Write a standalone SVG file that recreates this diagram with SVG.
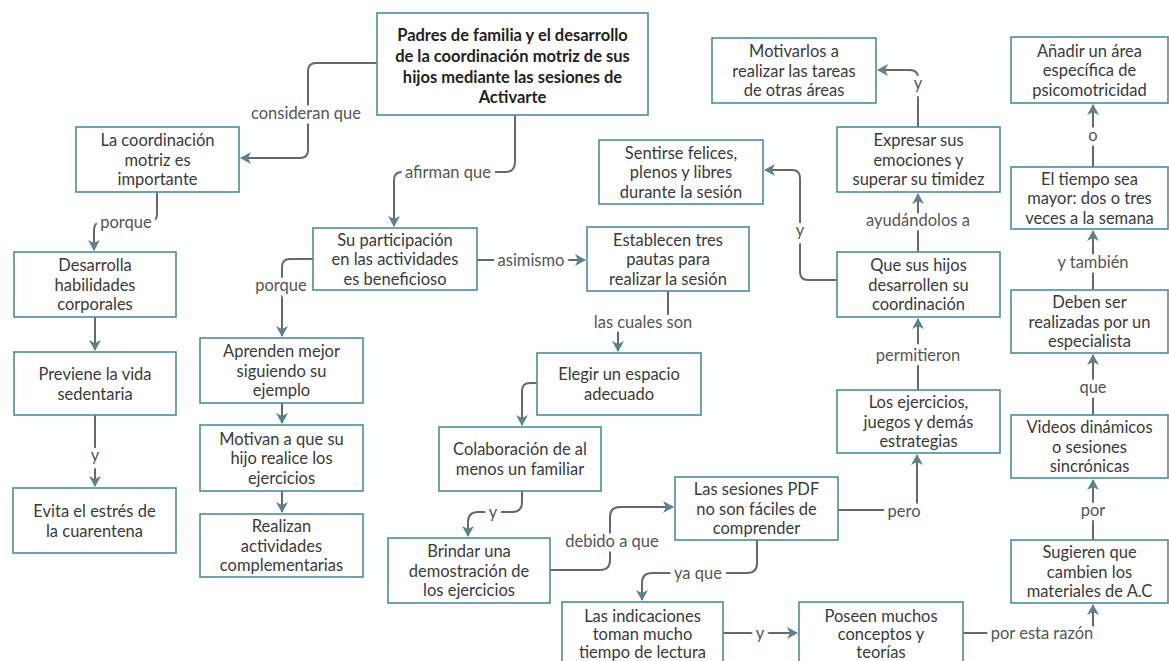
<svg xmlns="http://www.w3.org/2000/svg" width="1169" height="661" viewBox="0 0 1169 661">
<style>
.bx{fill:#fff;stroke:#4f8a9b;stroke-width:1.6}
.t{font-family:Lato,"Open Sans","Liberation Sans",sans-serif;font-size:16.5px;fill:#3a3a3a;text-anchor:middle;dominant-baseline:central}
.b{font-weight:bold;fill:#222}
.c{fill:none;stroke:#686868;stroke-width:2;marker-end:url(#ah)}
.l{font-family:Lato,"Open Sans","Liberation Sans",sans-serif;font-size:16.5px;fill:#555;text-anchor:middle;dominant-baseline:central;paint-order:stroke;stroke:#fff;stroke-width:9;stroke-linejoin:round}
</style>
<defs>
<marker id="ah" viewBox="0 0 12 12" refX="10" refY="6" markerWidth="12" markerHeight="12" markerUnits="userSpaceOnUse" orient="auto">
<path d="M0,0 L11,6 L0,12 L3,6 z" fill="#61818a"/>
</marker>
</defs>
<rect width="1169" height="661" fill="#fdfefe"/>
<g id="connectors">
<path class="c" d="M377,63 H316 Q308,63 308,71 V150 Q308,158 300,158 H241"/>
<path class="c" d="M515,115 V162 Q515,172 505,172 H402 Q394,172 394,180 V226"/>
<path class="c" d="M157,192 V214 Q157,222 149,222 H102 Q94,222 94,230 V250"/>
<path class="c" d="M95,317 V350"/>
<path class="c" d="M95,415 V486"/>
<path class="c" d="M313,259 H290 Q282,259 282,267 V336"/>
<path class="c" d="M282,403 V423"/>
<path class="c" d="M282,491 V512"/>
<path class="c" d="M477,260 H585"/>
<path class="c" d="M668,291 V322 H618 V351"/>
<path class="c" d="M537,383 H530 Q522,383 522,391 V425"/>
<path class="c" d="M522,491 V502 Q522,512 512,512 H478 Q468,512 468,522 V536"/>
<path class="c" d="M550,570 H600 Q610,570 610,560 V517 Q610,507 620,507 H673"/>
<path class="c" d="M757,540 V563 Q757,573 747,573 H652 Q642,573 642,583 V600"/>
<path class="c" d="M838,510 H917 V455"/>
<path class="c" d="M918,390 V319"/>
<path class="c" d="M918,252 V194"/>
<path class="c" d="M918,127 V78 Q918,70 910,70 H878"/>
<path class="c" d="M837,280 H808 Q800,280 800,272 V178 Q800,170 792,170 H765"/>
<path class="c" d="M1093,540 V480"/>
<path class="c" d="M1093,415 V355"/>
<path class="c" d="M1093,290 V231"/>
<path class="c" d="M1093,167 V105"/>
<path class="c" d="M963,633 H1093 V605"/>
<path class="c" d="M723,633 H797"/>
<text class="l" x="306" y="113">consideran que</text>
<text class="l" x="448" y="172">afirman que</text>
<text class="l" x="126" y="222">porque</text>
<text class="l" x="95" y="455">y</text>
<text class="l" x="281" y="285">porque</text>
<text class="l" x="531" y="260">asimismo</text>
<text class="l" x="643" y="322">las cuales son</text>
<text class="l" x="493" y="512">y</text>
<text class="l" x="612" y="541">debido a que</text>
<text class="l" x="698" y="573">ya que</text>
<text class="l" x="904" y="511">pero</text>
<text class="l" x="918" y="355">permitieron</text>
<text class="l" x="918" y="220">ayudándolos a</text>
<text class="l" x="918" y="83">y</text>
<text class="l" x="800" y="230">y</text>
<text class="l" x="1093" y="510">por</text>
<text class="l" x="1093" y="387">que</text>
<text class="l" x="1093" y="262">y también</text>
<text class="l" x="1093" y="135">o</text>
<text class="l" x="1042" y="633">por esta razón</text>
<text class="l" x="760" y="633">y</text>
</g>
<g id="n1"><rect class="bx" x="377" y="13" width="271" height="102"/><text class="t b" x="512.5"><tspan x="512.5" y="35">Padres de familia y el desarrollo</tspan><tspan x="512.5" y="56">de la coordinación motriz de sus</tspan><tspan x="512.5" y="77">hijos mediante las sesiones de</tspan><tspan x="512.5" y="97">Activarte</tspan></text></g>
<g id="n2"><rect class="bx" x="76" y="127" width="163" height="65"/><text class="t"><tspan x="157.5" y="140">La coordinación</tspan><tspan x="157.5" y="159.5">motriz es</tspan><tspan x="157.5" y="179">importante</tspan></text></g>
<g id="n3"><rect class="bx" x="14" y="252" width="162" height="65"/><text class="t"><tspan x="95" y="265">Desarrolla</tspan><tspan x="95" y="284.5">habilidades</tspan><tspan x="95" y="304">corporales</tspan></text></g>
<g id="n4"><rect class="bx" x="14" y="352" width="162" height="63"/><text class="t"><tspan x="95" y="374">Previene la vida</tspan><tspan x="95" y="394">sedentaria</tspan></text></g>
<g id="n5"><rect class="bx" x="13" y="488" width="163" height="65"/><text class="t"><tspan x="94.5" y="510.5">Evita el estrés de</tspan><tspan x="94.5" y="530.5">la cuarentena</tspan></text></g>
<g id="n6"><rect class="bx" x="313" y="228" width="164" height="62"/><text class="t"><tspan x="395" y="239.5">Su participación</tspan><tspan x="395" y="259">en las actividades</tspan><tspan x="395" y="278.5">es beneficioso</tspan></text></g>
<g id="n7"><rect class="bx" x="587" y="227" width="162" height="64"/><text class="t"><tspan x="668" y="239.5">Establecen tres</tspan><tspan x="668" y="259">pautas para</tspan><tspan x="668" y="278.5">realizar la sesión</tspan></text></g>
<g id="n8"><rect class="bx" x="537" y="353" width="164" height="62"/><text class="t"><tspan x="619" y="374">Elegir un espacio</tspan><tspan x="619" y="394">adecuado</tspan></text></g>
<g id="n9"><rect class="bx" x="439" y="427" width="162" height="64"/><text class="t"><tspan x="520" y="449">Colaboración de al</tspan><tspan x="520" y="469">menos un familiar</tspan></text></g>
<g id="n10"><rect class="bx" x="388" y="538" width="162" height="65"/><text class="t"><tspan x="469" y="551">Brindar una</tspan><tspan x="469" y="570.5">demostración de</tspan><tspan x="469" y="590">los ejercicios</tspan></text></g>
<g id="n11"><rect class="bx" x="675" y="477" width="163" height="63"/><text class="t"><tspan x="756.5" y="489">Las sesiones PDF</tspan><tspan x="756.5" y="508.5">no son fáciles de</tspan><tspan x="756.5" y="528">comprender</tspan></text></g>
<g id="n12"><rect class="bx" x="562" y="602" width="161" height="64"/><text class="t"><tspan x="642.5" y="616">Las indicaciones</tspan><tspan x="642.5" y="634">toman mucho</tspan><tspan x="642.5" y="652">tiempo de lectura</tspan></text></g>
<g id="n13"><rect class="bx" x="799" y="602" width="164" height="64"/><text class="t"><tspan x="881" y="616">Poseen muchos</tspan><tspan x="881" y="634">conceptos y</tspan><tspan x="881" y="652">teorías</tspan></text></g>
<g id="n14"><rect class="bx" x="200" y="338" width="163" height="65"/><text class="t"><tspan x="281.5" y="351">Aprenden mejor</tspan><tspan x="281.5" y="370.5">siguiendo su</tspan><tspan x="281.5" y="390">ejemplo</tspan></text></g>
<g id="n15"><rect class="bx" x="200" y="425" width="163" height="66"/><text class="t"><tspan x="281.5" y="438.5">Motivan a que su</tspan><tspan x="281.5" y="458">hijo realice los</tspan><tspan x="281.5" y="477.5">ejercicios</tspan></text></g>
<g id="n16"><rect class="bx" x="200" y="514" width="163" height="63"/><text class="t"><tspan x="281.5" y="526">Realizan</tspan><tspan x="281.5" y="545.5">actividades</tspan><tspan x="281.5" y="565">complementarias</tspan></text></g>
<g id="n17"><rect class="bx" x="712" y="38" width="164" height="65"/><text class="t"><tspan x="794" y="51">Motivarlos a</tspan><tspan x="794" y="70.5">realizar las tareas</tspan><tspan x="794" y="90">de otras áreas</tspan></text></g>
<g id="n18"><rect class="bx" x="599" y="140" width="164" height="64"/><text class="t"><tspan x="681" y="152.5">Sentirse felices,</tspan><tspan x="681" y="172">plenos y libres</tspan><tspan x="681" y="191.5">durante la sesión</tspan></text></g>
<g id="n19"><rect class="bx" x="837" y="127" width="163" height="65"/><text class="t"><tspan x="918.5" y="140">Expresar sus</tspan><tspan x="918.5" y="159.5">emociones y</tspan><tspan x="918.5" y="179">superar su timidez</tspan></text></g>
<g id="n20"><rect class="bx" x="837" y="252" width="163" height="65"/><text class="t"><tspan x="918.5" y="265">Que sus hijos</tspan><tspan x="918.5" y="284.5">desarrollen su</tspan><tspan x="918.5" y="304">coordinación</tspan></text></g>
<g id="n21"><rect class="bx" x="837" y="390" width="163" height="63"/><text class="t"><tspan x="918.5" y="402">Los ejercicios,</tspan><tspan x="918.5" y="421.5">juegos y demás</tspan><tspan x="918.5" y="441">estrategias</tspan></text></g>
<g id="n22"><rect class="bx" x="1011" y="37" width="157" height="66"/><text class="t"><tspan x="1089.5" y="50.5">Añadir un área</tspan><tspan x="1089.5" y="70">específica de</tspan><tspan x="1089.5" y="89.5">psicomotricidad</tspan></text></g>
<g id="n23"><rect class="bx" x="1011" y="167" width="157" height="62"/><text class="t"><tspan x="1089.5" y="178.5">El tiempo sea</tspan><tspan x="1089.5" y="198">mayor: dos o tres</tspan><tspan x="1089.5" y="217.5">veces a la semana</tspan></text></g>
<g id="n24"><rect class="bx" x="1011" y="290" width="157" height="63"/><text class="t"><tspan x="1089.5" y="302">Deben ser</tspan><tspan x="1089.5" y="321.5">realizadas por un</tspan><tspan x="1089.5" y="341">especialista</tspan></text></g>
<g id="n25"><rect class="bx" x="1011" y="415" width="157" height="63"/><text class="t"><tspan x="1089.5" y="427">Videos dinámicos</tspan><tspan x="1089.5" y="446.5">o sesiones</tspan><tspan x="1089.5" y="466">sincrónicas</tspan></text></g>
<g id="n26"><rect class="bx" x="1011" y="540" width="157" height="63"/><text class="t"><tspan x="1089.5" y="552">Sugieren que</tspan><tspan x="1089.5" y="571.5">cambien los</tspan><tspan x="1089.5" y="591">materiales de A.C</tspan></text></g>
</svg>
